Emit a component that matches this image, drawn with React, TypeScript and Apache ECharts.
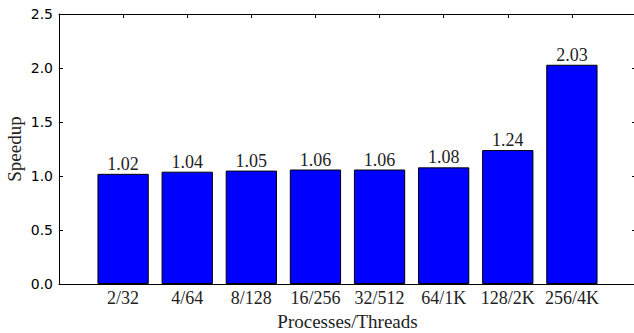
import React, { useEffect, useRef } from 'react';
import * as echarts from 'echarts';

const categories = ['2/32', '4/64', '8/128', '16/256', '32/512', '64/1K', '128/2K', '256/4K'];
const speedups = [1.02, 1.04, 1.05, 1.06, 1.06, 1.08, 1.24, 2.03];
const yMin = 0;
const yMax = 2.5;
const yStep = 0.5;
const xLabel = 'Processes/Threads';
const yLabel = 'Speedup';

export default function App() {
  const ref = useRef<HTMLDivElement>(null);
  useEffect(() => {
    document.body.style.margin = '0';
    const chart = echarts.init(ref.current!, null, { renderer: 'svg' });
    const serif = '"Liberation Serif", "DejaVu Serif", serif';
    const sans = '"DejaVu Sans", sans-serif';
    // one empty slot on each side, like matplotlib's xlim(-1, n)
    const xCats = ['', ...categories, ''];
    const barData = ['-', ...speedups, '-'];
    const axisLine = { show: true, onZero: false, lineStyle: { color: '#000', width: 1 } };
    const tick = { show: true, inside: true, length: 4, interval: 0, lineStyle: { color: '#000', width: 1 } };
    const xCommon = {
      type: 'category',
      data: xCats,
      boundaryGap: false,
      axisLine,
      axisTick: tick,
      splitLine: { show: false },
    };
    const yCommon = {
      type: 'value',
      min: yMin,
      max: yMax,
      interval: yStep,
      axisLine,
      axisTick: { ...tick, interval: 'auto' },
      splitLine: { show: false },
    };
    chart.setOption({
      animation: false,
      backgroundColor: '#fff',
      grid: { left: 59, right: -2, top: 14, bottom: 49, containLabel: false, outerBoundsMode: 'none' },
      xAxis: [
        {
          ...xCommon,
          position: 'bottom',
          name: xLabel,
          nameLocation: 'middle',
          nameGap: 25,
          nameTextStyle: { fontFamily: serif, fontSize: 19, color: '#222' },
          axisLabel: {
            show: true,
            interval: 0,
            margin: 5,
            fontFamily: serif,
            fontSize: 18,
            color: '#222',
          },
        },
        { ...xCommon, position: 'top', axisLabel: { show: false } },
      ],
      yAxis: [
        {
          ...yCommon,
          position: 'left',
          name: yLabel,
          nameLocation: 'middle',
          nameGap: 35,
          nameMoveOverlap: false,
          nameRotate: 90,
          nameTextStyle: { fontFamily: serif, fontSize: 19, color: '#222' },
          axisLabel: {
            show: true,
            margin: 6,
            fontFamily: sans,
            fontSize: 14,
            color: '#000',
            formatter: (v: number) => v.toFixed(1),
          },
        },
        { ...yCommon, position: 'right', axisLabel: { show: false } },
      ],
      series: [
        {
          type: 'bar',
          xAxisIndex: 0,
          yAxisIndex: 0,
          data: barData,
          barWidth: '80%',
          itemStyle: { color: '#0000ff', borderColor: '#000', borderWidth: 1 },
          label: {
            show: true,
            position: 'top',
            distance: 1,
            fontFamily: serif,
            fontSize: 18,
            color: '#222',
            formatter: (p: any) => Number(p.value).toFixed(2),
          },
        },
      ],
    });
    return () => chart.dispose();
  }, []);
  return <div ref={ref} style={{ width: 634, height: 333 }} />;
}
